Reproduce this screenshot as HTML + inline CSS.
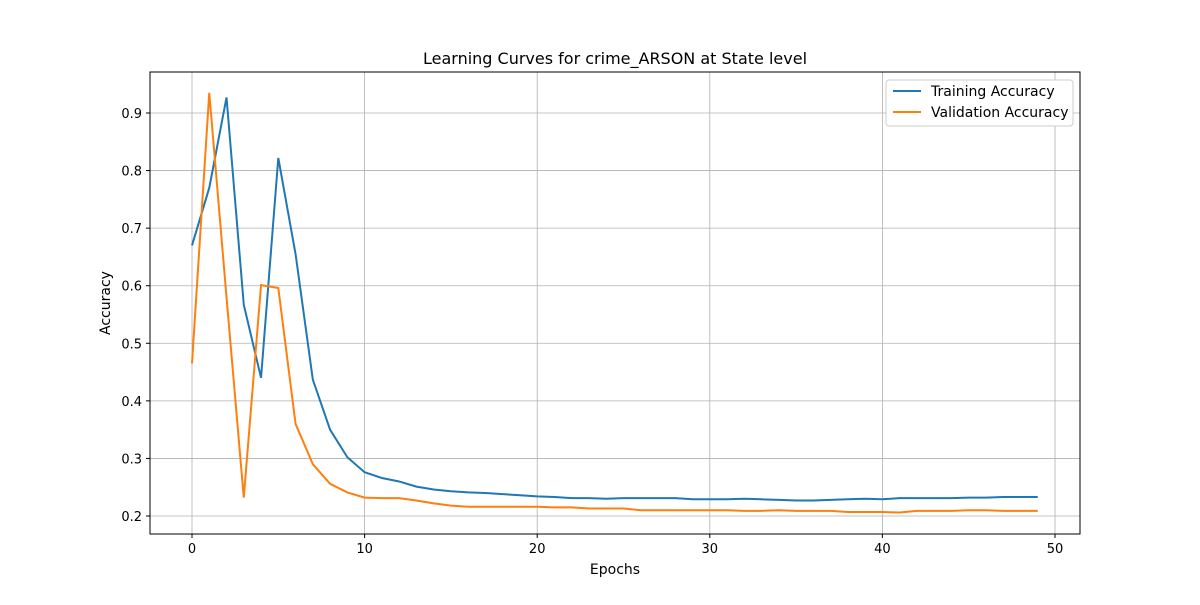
<!DOCTYPE html>
<html><head><meta charset="utf-8"><style>
body{margin:0;background:#fff;font-family:"Liberation Sans","DejaVu Sans",sans-serif}
svg text{font-family:"DejaVu Sans","Liberation Sans",sans-serif}
</style></head><body>
<svg id="chart" width="1200" height="600" xmlns="http://www.w3.org/2000/svg">
<rect width="1200" height="600" fill="#fff"/>
<g id="grid"></g><g id="series"></g><g id="axes"></g>
<text x="615" y="64" text-anchor="middle" font-size="16">Learning Curves for crime_ARSON at State level</text>
<text x="615" y="574" text-anchor="middle" font-size="14">Epochs</text>
<text x="110" y="303" text-anchor="middle" font-size="14" transform="rotate(-90 110 303)">Accuracy</text>
<g>
<rect x="886" y="80" width="187" height="46" rx="3" fill="#fff" stroke="#ccc"/>
<line x1="893" y1="91" x2="921" y2="91" stroke="#1f77b4" stroke-width="2"/>
<text x="931" y="96" font-size="14">Training Accuracy</text>
<line x1="893" y1="112" x2="921" y2="112" stroke="#ff7f0e" stroke-width="2"/>
<text x="931" y="117" font-size="14">Validation Accuracy</text>
</g>
</svg>
<script>
const training=[0.67,0.77,0.927,0.567,0.44,0.822,0.655,0.437,0.35,0.302,0.276,0.266,0.26,0.251,0.246,0.243,0.241,0.24,0.238,0.236,0.234,0.233,0.231,0.231,0.23,0.231,0.231,0.231,0.231,0.229,0.229,0.229,0.23,0.229,0.228,0.227,0.227,0.228,0.229,0.23,0.229,0.231,0.231,0.231,0.231,0.232,0.232,0.233,0.233,0.233];
const validation=[0.465,0.935,0.58,0.232,0.601,0.596,0.36,0.29,0.256,0.241,0.232,0.231,0.231,0.227,0.222,0.218,0.216,0.216,0.216,0.216,0.216,0.215,0.215,0.213,0.213,0.213,0.21,0.21,0.21,0.21,0.21,0.21,0.209,0.209,0.21,0.209,0.209,0.209,0.207,0.207,0.207,0.206,0.209,0.209,0.209,0.21,0.21,0.209,0.209,0.209];
const xTicks=[0,10,20,30,40,50];
const yTicks=[0.2,0.3,0.4,0.5,0.6,0.7,0.8,0.9];
const L=150,R=1080,T=72,B=534;
const xs=v=>192+(v/50)*(1055-192);
const ys=v=>516-(v-0.2)/0.7*(516-113);
const NS="http://www.w3.org/2000/svg";
const g=document.getElementById('grid'),s=document.getElementById('series'),a=document.getElementById('axes');
function mk(t,at,p){const e=document.createElementNS(NS,t);for(const k in at)e.setAttribute(k,at[k]);p.appendChild(e);return e;}
xTicks.forEach(v=>{const x=xs(v);
const gl=mk('line',{x1:x,x2:x,y1:T,y2:B,stroke:'#b0b0b0','stroke-width':0.8},g);


mk('line',{x1:x,x2:x,y1:B,y2:B+4,stroke:'#000'},a);
const t=mk('text',{x:x,y:B+19,'text-anchor':'middle','font-size':13},a);t.textContent=v;

});
yTicks.forEach(v=>{const y=ys(v);
const gl=mk('line',{x1:L,x2:R,y1:y,y2:y,stroke:'#b0b0b0','stroke-width':0.8},g);


mk('line',{x1:L-4,x2:L,y1:y,y2:y,stroke:'#000'},a);
const t=mk('text',{x:L-8,y:y+5,'text-anchor':'end','font-size':13},a);t.textContent=v.toFixed(1);

});
const fr=mk('rect',{x:L,y:T,width:R-L,height:B-T,fill:'none',stroke:'#000','stroke-width':1},a);


function line(d,c,n){const p=mk('polyline',{points:d.map((v,i)=>xs(i)+','+ys(v)).join(' '),fill:'none',stroke:c,'stroke-width':2},s);

}
line(training,'#1f77b4','training-accuracy-line');
line(validation,'#ff7f0e','validation-accuracy-line');
</script>
</body></html>
